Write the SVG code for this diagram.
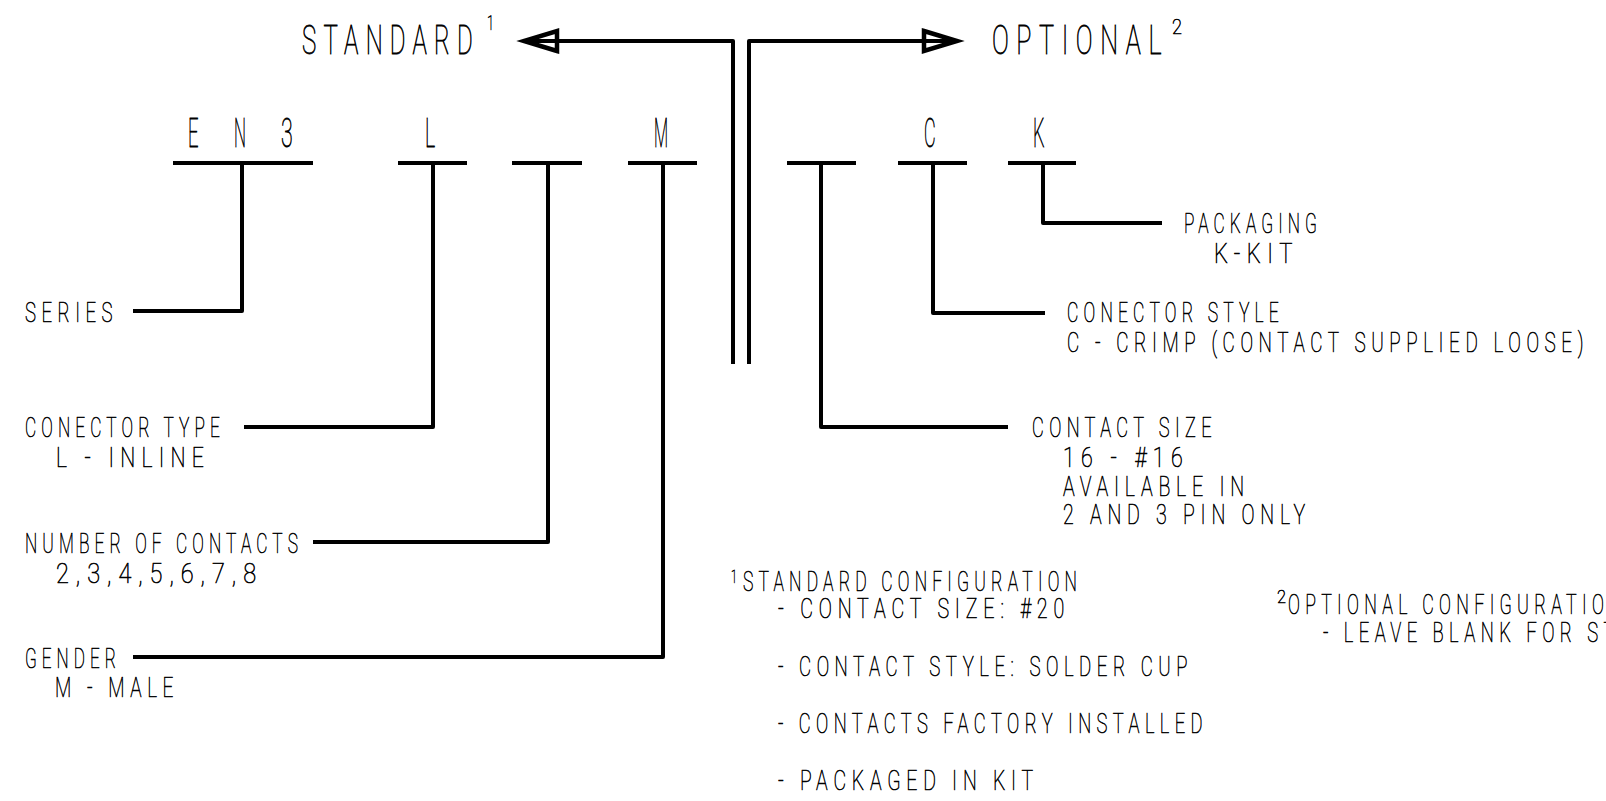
<svg xmlns="http://www.w3.org/2000/svg" width="1606" height="801" viewBox="0 0 1606 801">
<style>
text{font-family:Roboto,"Liberation Sans",sans-serif;font-weight:100;fill:#000;stroke:#000;stroke-width:0.6px}
.big{font-size:40px;letter-spacing:12px;stroke-width:0.8px}
.lbl{font-size:27px;letter-spacing:8px}
.sup{font-size:21px}
.supS{font-size:18px}
.ln{fill:none;stroke:#000;stroke-width:4;stroke-linejoin:round}
.ul{stroke:#000;stroke-width:4}
</style>
<defs>
<marker id="ah" markerUnits="userSpaceOnUse" markerWidth="60" markerHeight="40" refX="0" refY="0" orient="auto" overflow="visible">
<polygon points="-33,-10 0,0 -33,10" fill="#fff" stroke="#000" stroke-width="4.5" stroke-linejoin="miter"/>
<line x1="-33" y1="0" x2="0" y2="0" stroke="#000" stroke-width="4"/>
</marker>
</defs>

<g id="header-standard">
<text class="big" x="302" y="54" textLength="178" lengthAdjust="spacingAndGlyphs">STANDARD</text>
<text class="sup" x="487" y="30" textLength="7" lengthAdjust="spacingAndGlyphs">1</text>
</g>
<g id="header-optional">
<text class="big" x="992" y="54" textLength="177" lengthAdjust="spacingAndGlyphs">OPTIONAL</text>
<text class="sup" x="1172" y="34" textLength="10" lengthAdjust="spacingAndGlyphs">2</text>
</g>

<g id="field-series">
<text class="big" x="188" y="147" textLength="16" lengthAdjust="spacingAndGlyphs">E</text>
<text class="big" x="234" y="147" textLength="17" lengthAdjust="spacingAndGlyphs">N</text>
<text class="big" x="281" y="147" textLength="18" lengthAdjust="spacingAndGlyphs">3</text>
<line class="ul" x1="173" y1="163" x2="313" y2="163"/>
</g>
<g id="field-type">
<text class="big" x="425" y="147" textLength="16" lengthAdjust="spacingAndGlyphs">L</text>
<line class="ul" x1="398" y1="163" x2="467" y2="163"/>
</g>
<g id="field-contacts">
<line class="ul" x1="512" y1="163" x2="582" y2="163"/>
</g>
<g id="field-gender">
<text class="big" x="654" y="147" textLength="19" lengthAdjust="spacingAndGlyphs">M</text>
<line class="ul" x1="628" y1="163" x2="697" y2="163"/>
</g>
<g id="field-size">
<line class="ul" x1="787" y1="163" x2="856" y2="163"/>
</g>
<g id="field-style">
<text class="big" x="924" y="147" textLength="17" lengthAdjust="spacingAndGlyphs">C</text>
<line class="ul" x1="898" y1="163" x2="967" y2="163"/>
</g>
<g id="field-packaging">
<text class="big" x="1033" y="147" textLength="17" lengthAdjust="spacingAndGlyphs">K</text>
<line class="ul" x1="1008" y1="163" x2="1076" y2="163"/>
</g>

<g id="connectors">
<path class="ln" d="M733,364 V41 H524" marker-end="url(#ah)"/>
<path class="ln" d="M749,364 V41 H957" marker-end="url(#ah)"/>
<path class="ln" d="M242,163 V311 H133"/>
<path class="ln" d="M433,163 V427 H244"/>
<path class="ln" d="M548,163 V542 H313"/>
<path class="ln" d="M663,163 V657 H133"/>
<path class="ln" d="M821,163 V427 H1008"/>
<path class="ln" d="M933,163 V313 H1045"/>
<path class="ln" d="M1043,163 V223 H1162"/>
</g>

<g id="label-series">
<text class="lbl" x="25" y="322" textLength="93" lengthAdjust="spacingAndGlyphs">SERIES</text>
</g>
<g id="label-type">
<text class="lbl" x="25" y="437" textLength="200" lengthAdjust="spacingAndGlyphs">CONECTOR TYPE</text>
<text class="lbl" x="56" y="467" textLength="154" lengthAdjust="spacingAndGlyphs">L - INLINE</text>
</g>
<g id="label-contacts">
<text class="lbl" x="25" y="553" textLength="278" lengthAdjust="spacingAndGlyphs">NUMBER OF CONTACTS</text>
<text class="lbl" x="56" y="583" textLength="207" lengthAdjust="spacingAndGlyphs">2,3,4,5,6,7,8</text>
</g>
<g id="label-gender">
<text class="lbl" x="25" y="668" textLength="96" lengthAdjust="spacingAndGlyphs">GENDER</text>
<text class="lbl" x="55" y="697" textLength="124" lengthAdjust="spacingAndGlyphs">M - MALE</text>
</g>
<g id="label-packaging">
<text class="lbl" x="1184" y="233" textLength="138" lengthAdjust="spacingAndGlyphs">PACKAGING</text>
<text class="lbl" x="1214" y="263" textLength="85" lengthAdjust="spacingAndGlyphs">K-KIT</text>
</g>
<g id="label-style">
<text class="lbl" x="1067" y="322" textLength="217" lengthAdjust="spacingAndGlyphs">CONECTOR STYLE</text>
<text class="lbl" x="1067" y="352" textLength="522" lengthAdjust="spacingAndGlyphs">C - CRIMP (CONTACT SUPPLIED LOOSE)</text>
</g>
<g id="label-size">
<text class="lbl" x="1032" y="437" textLength="185" lengthAdjust="spacingAndGlyphs">CONTACT SIZE</text>
<text class="lbl" x="1063" y="467" textLength="126" lengthAdjust="spacingAndGlyphs">16 - #16</text>
<text class="lbl" x="1063" y="496" textLength="187" lengthAdjust="spacingAndGlyphs">AVAILABLE IN</text>
<text class="lbl" x="1063" y="524" textLength="248" lengthAdjust="spacingAndGlyphs">2 AND 3 PIN ONLY</text>
</g>

<g id="note-standard">
<text class="supS" x="731" y="583" textLength="6" lengthAdjust="spacingAndGlyphs">1</text>
<text class="lbl" x="743" y="591" textLength="339" lengthAdjust="spacingAndGlyphs">STANDARD CONFIGURATION</text>
<text class="lbl" x="778" y="618" textLength="292" lengthAdjust="spacingAndGlyphs">- CONTACT SIZE: #20</text>
<text class="lbl" x="778" y="676" textLength="415" lengthAdjust="spacingAndGlyphs">- CONTACT STYLE: SOLDER CUP</text>
<text class="lbl" x="778" y="733" textLength="430" lengthAdjust="spacingAndGlyphs">- CONTACTS FACTORY INSTALLED</text>
<text class="lbl" x="778" y="790" textLength="261" lengthAdjust="spacingAndGlyphs">- PACKAGED IN KIT</text>
</g>
<g id="note-optional">
<text class="supS" x="1277" y="603" textLength="9" lengthAdjust="spacingAndGlyphs">2</text>
<text class="lbl" x="1288" y="614" textLength="339" lengthAdjust="spacingAndGlyphs">OPTIONAL CONFIGURATION</text>
<text class="lbl" x="1323" y="642" textLength="400" lengthAdjust="spacingAndGlyphs">- LEAVE BLANK FOR STANDARD</text>
</g>
</svg>
